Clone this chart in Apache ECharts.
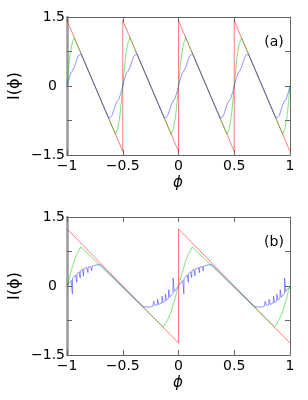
<!DOCTYPE html>
<html>
<head>
<meta charset="utf-8">
<script src="https://cdn.jsdelivr.net/npm/echarts@6/dist/echarts.min.js"></script>
<style>html,body{margin:0;padding:0;background:#fff}#c{width:308px;height:400px}</style>
</head>
<body>
<div id="c"></div>
<script>
// ---- data: panel (a) ----
const redA = [[-1,1.42],[-0.5,-1.42],[-0.5,1.42],[0,-1.42],[0,1.42],[0.5,-1.42],[0.5,1.42],[1,-1.42]];
const greenA = [
[-1,0],[-0.99,0.27],[-0.98,0.52],[-0.97,0.72],[-0.955,0.92],[-0.935,1.05],[-0.565,-1.05],[-0.545,-0.92],[-0.53,-0.72],[-0.52,-0.52],[-0.51,-0.27],[-0.5,0],
[-0.49,0.27],[-0.48,0.52],[-0.47,0.72],[-0.455,0.92],[-0.435,1.05],[-0.065,-1.05],[-0.045,-0.92],[-0.03,-0.72],[-0.02,-0.52],[-0.01,-0.27],[0,0],
[0.01,0.27],[0.02,0.52],[0.03,0.72],[0.045,0.92],[0.065,1.05],[0.435,-1.05],[0.455,-0.92],[0.47,-0.72],[0.48,-0.52],[0.49,-0.27],[0.5,0],
[0.51,0.27],[0.52,0.52],[0.53,0.72],[0.545,0.92],[0.565,1.05],[0.935,-1.05],[0.955,-0.92],[0.97,-0.72],[0.98,-0.52],[0.99,-0.27],[1,0]];
const blueA = [
[-1,0],[-0.99,0.1],[-0.98,0.18],[-0.967,0.28],[-0.951,0.33],[-0.936,0.40],[-0.92,0.52],[-0.905,0.63],[-0.89,0.68],[-0.872,0.69],[-0.628,-0.69],[-0.61,-0.68],[-0.595,-0.63],[-0.58,-0.52],[-0.564,-0.40],[-0.549,-0.33],[-0.533,-0.28],[-0.52,-0.18],[-0.51,-0.1],[-0.5,0],
[-0.49,0.1],[-0.48,0.18],[-0.467,0.28],[-0.451,0.33],[-0.436,0.40],[-0.42,0.52],[-0.405,0.63],[-0.39,0.68],[-0.372,0.69],[-0.128,-0.69],[-0.11,-0.68],[-0.095,-0.63],[-0.08,-0.52],[-0.064,-0.40],[-0.049,-0.33],[-0.033,-0.28],[-0.02,-0.18],[-0.01,-0.1],[0,0],
[0.01,0.1],[0.02,0.18],[0.033,0.28],[0.049,0.33],[0.064,0.40],[0.08,0.52],[0.095,0.63],[0.11,0.68],[0.128,0.69],[0.372,-0.69],[0.39,-0.68],[0.405,-0.63],[0.42,-0.52],[0.436,-0.40],[0.451,-0.33],[0.467,-0.28],[0.48,-0.18],[0.49,-0.1],[0.5,0],
[0.51,0.1],[0.52,0.18],[0.533,0.28],[0.549,0.33],[0.564,0.40],[0.58,0.52],[0.595,0.63],[0.61,0.68],[0.628,0.69],[0.872,-0.69],[0.89,-0.68],[0.905,-0.63],[0.92,-0.52],[0.936,-0.40],[0.951,-0.33],[0.967,-0.28],[0.98,-0.18],[0.99,-0.1],[1,0]];

// ---- data: panel (b) ----
const redB = [[-1,1.24],[0,-1.24],[0,1.24],[1,-1.24]];
const greenB = [
[-1,0],[-0.985,0.12],[-0.97,0.27],[-0.952,0.41],[-0.935,0.55],[-0.922,0.63],[-0.905,0.72],[-0.892,0.78],[-0.875,0.85],[-0.862,0.89],
[-0.138,-0.89],[-0.125,-0.85],[-0.108,-0.78],[-0.095,-0.72],[-0.078,-0.63],[-0.065,-0.55],[-0.048,-0.41],[-0.03,-0.27],[-0.015,-0.12],[0,0],
[0.015,0.12],[0.03,0.27],[0.048,0.41],[0.065,0.55],[0.078,0.63],[0.095,0.72],[0.108,0.78],[0.125,0.85],[0.138,0.89],
[0.862,-0.89],[0.875,-0.85],[0.892,-0.78],[0.905,-0.72],[0.922,-0.63],[0.935,-0.55],[0.952,-0.41],[0.97,-0.27],[0.985,-0.12],[1,0]];
const blueB = [
[-1,0.03],[-0.98,0.06],[-0.962,0.12],[-0.952,-0.17],[-0.95,0.16],[-0.922,0.24],[-0.912,0.08],[-0.91,0.27],[-0.892,0.31],[-0.882,0.18],[-0.88,0.33],[-0.862,0.36],[-0.852,0.22],[-0.85,0.37],[-0.822,0.40],[-0.812,0.29],[-0.81,0.41],[-0.788,0.42],[-0.778,0.33],[-0.776,0.43],[-0.77,0.44],[-0.75,0.45],[-0.73,0.46],[-0.70,0.46],[-0.683,0.45],
[-0.317,-0.45],[-0.30,-0.46],[-0.27,-0.46],[-0.25,-0.45],[-0.23,-0.44],[-0.224,-0.43],[-0.222,-0.33],[-0.212,-0.42],[-0.19,-0.41],[-0.188,-0.29],[-0.178,-0.40],[-0.15,-0.37],[-0.148,-0.22],[-0.138,-0.36],[-0.12,-0.33],[-0.118,-0.18],[-0.108,-0.31],[-0.09,-0.27],[-0.088,-0.08],[-0.078,-0.24],[-0.05,-0.16],[-0.048,0.17],[-0.038,-0.12],[-0.02,-0.06],
[0,0],[0.02,0.06],[0.038,0.12],[0.048,-0.17],[0.05,0.16],[0.078,0.24],[0.088,0.08],[0.09,0.27],[0.108,0.31],[0.118,0.18],[0.12,0.33],[0.138,0.36],[0.148,0.22],[0.15,0.37],[0.178,0.40],[0.188,0.29],[0.19,0.41],[0.212,0.42],[0.222,0.33],[0.224,0.43],[0.23,0.44],[0.25,0.45],[0.27,0.46],[0.30,0.46],[0.317,0.45],
[0.683,-0.45],[0.70,-0.46],[0.73,-0.46],[0.75,-0.45],[0.77,-0.44],[0.776,-0.43],[0.778,-0.33],[0.788,-0.42],[0.81,-0.41],[0.812,-0.29],[0.822,-0.40],[0.85,-0.37],[0.852,-0.22],[0.862,-0.36],[0.88,-0.33],[0.882,-0.18],[0.892,-0.31],[0.91,-0.27],[0.912,-0.08],[0.922,-0.24],[0.95,-0.16],[0.952,0.17],[0.962,-0.12],[0.98,-0.06],[1,-0.03]];

// ---- ticks / labels ----
const xTicks = [-1, -0.5, 0, 0.5, 1];
const yTicks = [-1.5, -0.75, 0, 0.75, 1.5];
const yLabeled = [-1.5, 0, 1.5];
const panelLabels = ['(a)', '(b)'];

const FONT = 'DejaVu Sans';
const frame = '#666';
function fmtNum(v){ return v < 0 ? '\u2212' + String(-v) : String(v); }

const chart = echarts.init(document.getElementById('c'), null, {renderer:'canvas'});
const grids = [
  {left:67, top:17, width:223, height:138},
  {left:67, top:217, width:223, height:138}
];
const xAxes = [], yAxes = [];
grids.forEach((g, gi) => {
  const base = {type:'value', gridIndex:gi, min:xTicks[0], max:xTicks[xTicks.length-1], interval:0.5,
    splitLine:{show:false}, axisTick:{inside:true, length:5, lineStyle:{color:frame}},
    axisLine:{show:true, onZero:false, lineStyle:{color:frame, width:1}}};
  xAxes.push(Object.assign({}, base, {position:'bottom',
    axisLabel:{margin:4, color:'#000', fontFamily:FONT, fontSize:14, formatter:fmtNum}}));
  xAxes.push(Object.assign({}, base, {position:'top', axisLabel:{show:false}}));
  const ybase = {type:'value', gridIndex:gi, min:yTicks[0], max:yTicks[yTicks.length-1], interval:0.75,
    splitLine:{show:false}, axisTick:{inside:true, length:5, lineStyle:{color:frame}}};
  yAxes.push(Object.assign({}, ybase, {position:'left',
    axisLine:{show:true, onZero:false, lineStyle:{color:'#999', width:2.5}},
    axisLabel:{margin:2, color:'#000', fontFamily:FONT, fontSize:14,
      formatter:v => { if (yLabeled.some(t => Math.abs(t - v) < 1e-9)) { return Math.abs(v) < 1e-9 ? '{z|0}' : fmtNum(v); } return ''; },
      rich:{z:{fontFamily:FONT, fontSize:14, color:'#000', padding:[0,8,0,0]}}}}));
  yAxes.push(Object.assign({}, ybase, {position:'right',
    axisLine:{show:true, onZero:false, lineStyle:{color:frame, width:1}}, axisLabel:{show:false}}));
});

function mk(data, color, gi){
  return {type:'line', data:data, xAxisIndex:gi*2, yAxisIndex:gi*2, symbol:'none', showSymbol:false,
    lineStyle:{color:color, width:1}, silent:true, animation:false, clip:false};
}
const RED = 'rgba(255,0,0,0.5)', GREEN = 'rgba(0,200,0,0.5)', BLUE = 'rgba(40,40,255,0.5)';

const graphics = [];
grids.forEach((g, gi) => {
  graphics.push({type:'text', x:178, y:g.top + g.height + 28, style:{text:'\u03d5', font:'italic 15px "DejaVu Sans"', fill:'#000', align:'center', verticalAlign:'middle'}});
  graphics.push({type:'text', x:15, y:g.top + 69, rotation:Math.PI/2,
    style:{text:'I(\u03d5)', font:'16px "DejaVu Sans"', fill:'#000', align:'center', verticalAlign:'middle'}});
  graphics.push({type:'text', x:274, y:g.top + 25, style:{text:panelLabels[gi], font:'14px "DejaVu Sans"', fill:'#000', align:'center', verticalAlign:'middle'}});
});

chart.setOption({
  animation:false,
  backgroundColor:'#fff',
  grid: grids,
  xAxis: xAxes,
  yAxis: yAxes,
  series: [
    mk(redA, RED, 0), mk(greenA, GREEN, 0), mk(blueA, BLUE, 0),
    mk(redB, RED, 1), mk(greenB, GREEN, 1), mk(blueB, BLUE, 1)
  ],
  graphic: graphics
});
</script>
</body>
</html>
